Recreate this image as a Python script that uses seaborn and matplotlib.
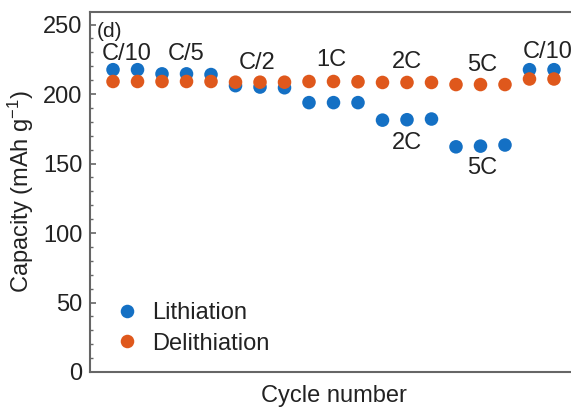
import numpy as np
import pandas as pd
import matplotlib
matplotlib.use("Agg")
import matplotlib.pyplot as plt
from matplotlib.ticker import MultipleLocator
import seaborn as sns

# Rate-capability data: capacity per cycle for each C-rate step
cycles = [1, 2, 3, 4, 5, 6, 7, 8, 9, 10, 11, 12, 13, 14, 15, 16, 17, 18, 19]
lithiation = [217.5, 217.5, 214.5, 214.5, 214.0, 206.0, 205.0, 204.5,
              193.8, 193.8, 193.8, 181.2, 181.5, 182.0, 162.0, 162.5, 163.3,
              217.5, 217.5]
delithiation = [209.0, 209.0, 209.0, 209.0, 209.0, 208.5, 208.5, 208.5,
                209.0, 209.0, 208.8, 208.3, 208.3, 208.3, 206.8, 206.8, 206.8,
                210.8, 210.8]
series_names = ["Lithiation", "Delithiation"]

# Rate labels: text, cycle position, capacity position
rate_labels = ["C/10", "C/5", "C/2", "1C", "2C", "5C", "C/10", "2C", "5C"]
rate_x = [1.55, 4.0, 6.9, 9.9, 13.0, 16.05, 18.75, 13.0, 16.05]
rate_y = [228.5, 228.5, 222.5, 224.8, 223.3, 221.0, 230.5, 164.9, 146.9]

yticks = [0, 50, 100, 150, 200, 250]

df = pd.DataFrame({
    "cycle": cycles + cycles,
    "capacity": lithiation + delithiation,
    "series": [series_names[0]] * len(cycles) + [series_names[1]] * len(cycles),
})

sns.set_theme(style="white")
plt.rcParams["font.family"] = ["Liberation Sans", "DejaVu Sans"]
plt.rcParams["mathtext.fontset"] = "custom"
plt.rcParams["mathtext.rm"] = "Liberation Sans"
plt.rcParams["mathtext.it"] = "Liberation Sans:italic"

text_color = "#222222"
spine_color = "#666666"
fs = 17

fig = plt.figure(figsize=(5.71, 4.09), dpi=100)
W, H = 571, 409
ax_left, ax_right, ax_top, ax_bottom = 89.5, 578, 12, 372
ax = fig.add_axes([ax_left / W, (H - ax_bottom) / H,
                   (ax_right - ax_left) / W, (ax_bottom - ax_top) / H])

palette = {"Lithiation": "#1470c4", "Delithiation": "#df581c"}
sns.scatterplot(data=df, x="cycle", y="capacity", hue="series",
                palette=palette, s=95, edgecolor="none", linewidth=0,
                ax=ax, legend=True, clip_on=False)

ax.set_xlim(0.04, 19.98)
ax.set_ylim(0, 259)
ax.set_xticks([])
ax.set_yticks(yticks)
ax.yaxis.set_minor_locator(MultipleLocator(10))
ax.tick_params(axis="y", which="major", direction="in", length=4, width=1.2,
               color=spine_color, labelsize=fs, labelcolor=text_color, pad=5,
               left=True)
ax.tick_params(axis="y", which="minor", direction="in", length=2.2, width=1.0,
               color=spine_color, left=True)

for name, sp in ax.spines.items():
    sp.set_color(spine_color)
    sp.set_linewidth(1.5)

ax.set_xlabel("Cycle number", fontsize=fs, color=text_color)
ax.xaxis.set_label_coords(0.5, -0.035)
ax.xaxis.label.set_va("top")
ax.set_ylabel(r"Capacity (mAh g$^{-1}$)", fontsize=fs, color=text_color)
ax.yaxis.set_label_coords((36 - ax_left) / (ax_right - ax_left), 0.5)

for t, x, y in zip(rate_labels, rate_x, rate_y):
    ax.text(x, y, t, fontsize=fs, color=text_color, ha="center", va="center")

ax.text((97 - ax_left) / (ax_right - ax_left), (ax_bottom - 22) / (ax_bottom - ax_top),
        "(d)", transform=ax.transAxes, fontsize=fs - 2, color=text_color,
        ha="left", va="top")

handles, labels = ax.get_legend_handles_labels()
ax.legend(handles, labels, loc="lower left", frameon=False, fontsize=fs,
          labelcolor=text_color, handletextpad=0.3, handlelength=1.5,
          borderaxespad=0.2, bbox_to_anchor=(0.0125, 0.009),
          labelspacing=0.35, markerscale=1.0)

fig.savefig("out.png", dpi=100)
